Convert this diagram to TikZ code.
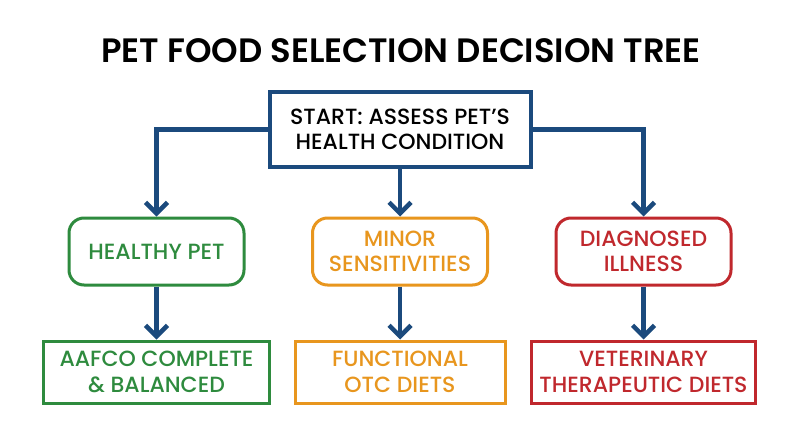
\documentclass[tikz,border=0pt]{standalone}
\usepackage{fontspec}
\setmainfont{Poppins}
\newfontfamily\medfont{Poppins Medium}
\newfontfamily\semifont{Poppins SemiBold}
\usetikzlibrary{arrows.meta}
\definecolor{navy}{HTML}{1B4A7D}
\definecolor{cgreen}{HTML}{2E8B3E}
\definecolor{corange}{HTML}{E8961E}
\definecolor{cred}{HTML}{C0282D}
\tikzset{
  boxtext/.style={align=center,font=\medfont\fontsize{22}{25.5}\selectfont,inner sep=0pt},
  catbox/.style={boxtext,draw=#1,text=#1,line width=3pt,rounded corners=15pt,minimum width=175pt,minimum height=67pt},
  dietbox/.style={boxtext,draw=#1,text=#1,line width=3pt,minimum height=62pt},
  link/.style={draw=navy,line width=4.5pt,-{Straight Barb[length=11pt,width=22pt,line width=4.5pt]}},
}
\begin{document}
\begin{tikzpicture}[x=1pt,y=-1pt]
\useasboundingbox[fill=white] (0,0) rectangle (800,447);
\node[font=\semifont\fontsize{33.8}{36}\selectfont,anchor=base] (title) at (401,62) {PET FOOD SELECTION DECISION TREE};
\node[boxtext,draw=navy,text=black,line width=4pt,minimum width=261pt,minimum height=75pt] (start) at (400,129.5) {START: ASSESS PET’S\\HEALTH CONDITION};
\node[catbox=cgreen] (healthy) at (156.5,251.5) {HEALTHY PET};
\node[catbox=corange] (minor) at (400,251.5) {MINOR\\SENSITIVITIES};
\node[catbox=cred] (diag) at (643.5,251.5) {DIAGNOSED\\ILLNESS};
\node[dietbox=cgreen,minimum width=226pt] (aafco) at (156.5,372) {AAFCO COMPLETE\\\& BALANCED};
\node[dietbox=corange,minimum width=210pt] (func) at (400,372) {FUNCTIONAL\\OTC DIETS};
\node[dietbox=cred,minimum width=224pt] (vet) at (643.5,372) {VETERINARY\\THERAPEUTIC DIETS};
\draw[link] (start.west) -| (healthy.north);
\draw[link] (start.south) -- (minor.north);
\draw[link] (start.east) -| (diag.north);
\draw[link] (healthy.south) -- (aafco.north);
\draw[link] (minor.south) -- (func.north);
\draw[link] (diag.south) -- (vet.north);
\end{tikzpicture}
\end{document}
